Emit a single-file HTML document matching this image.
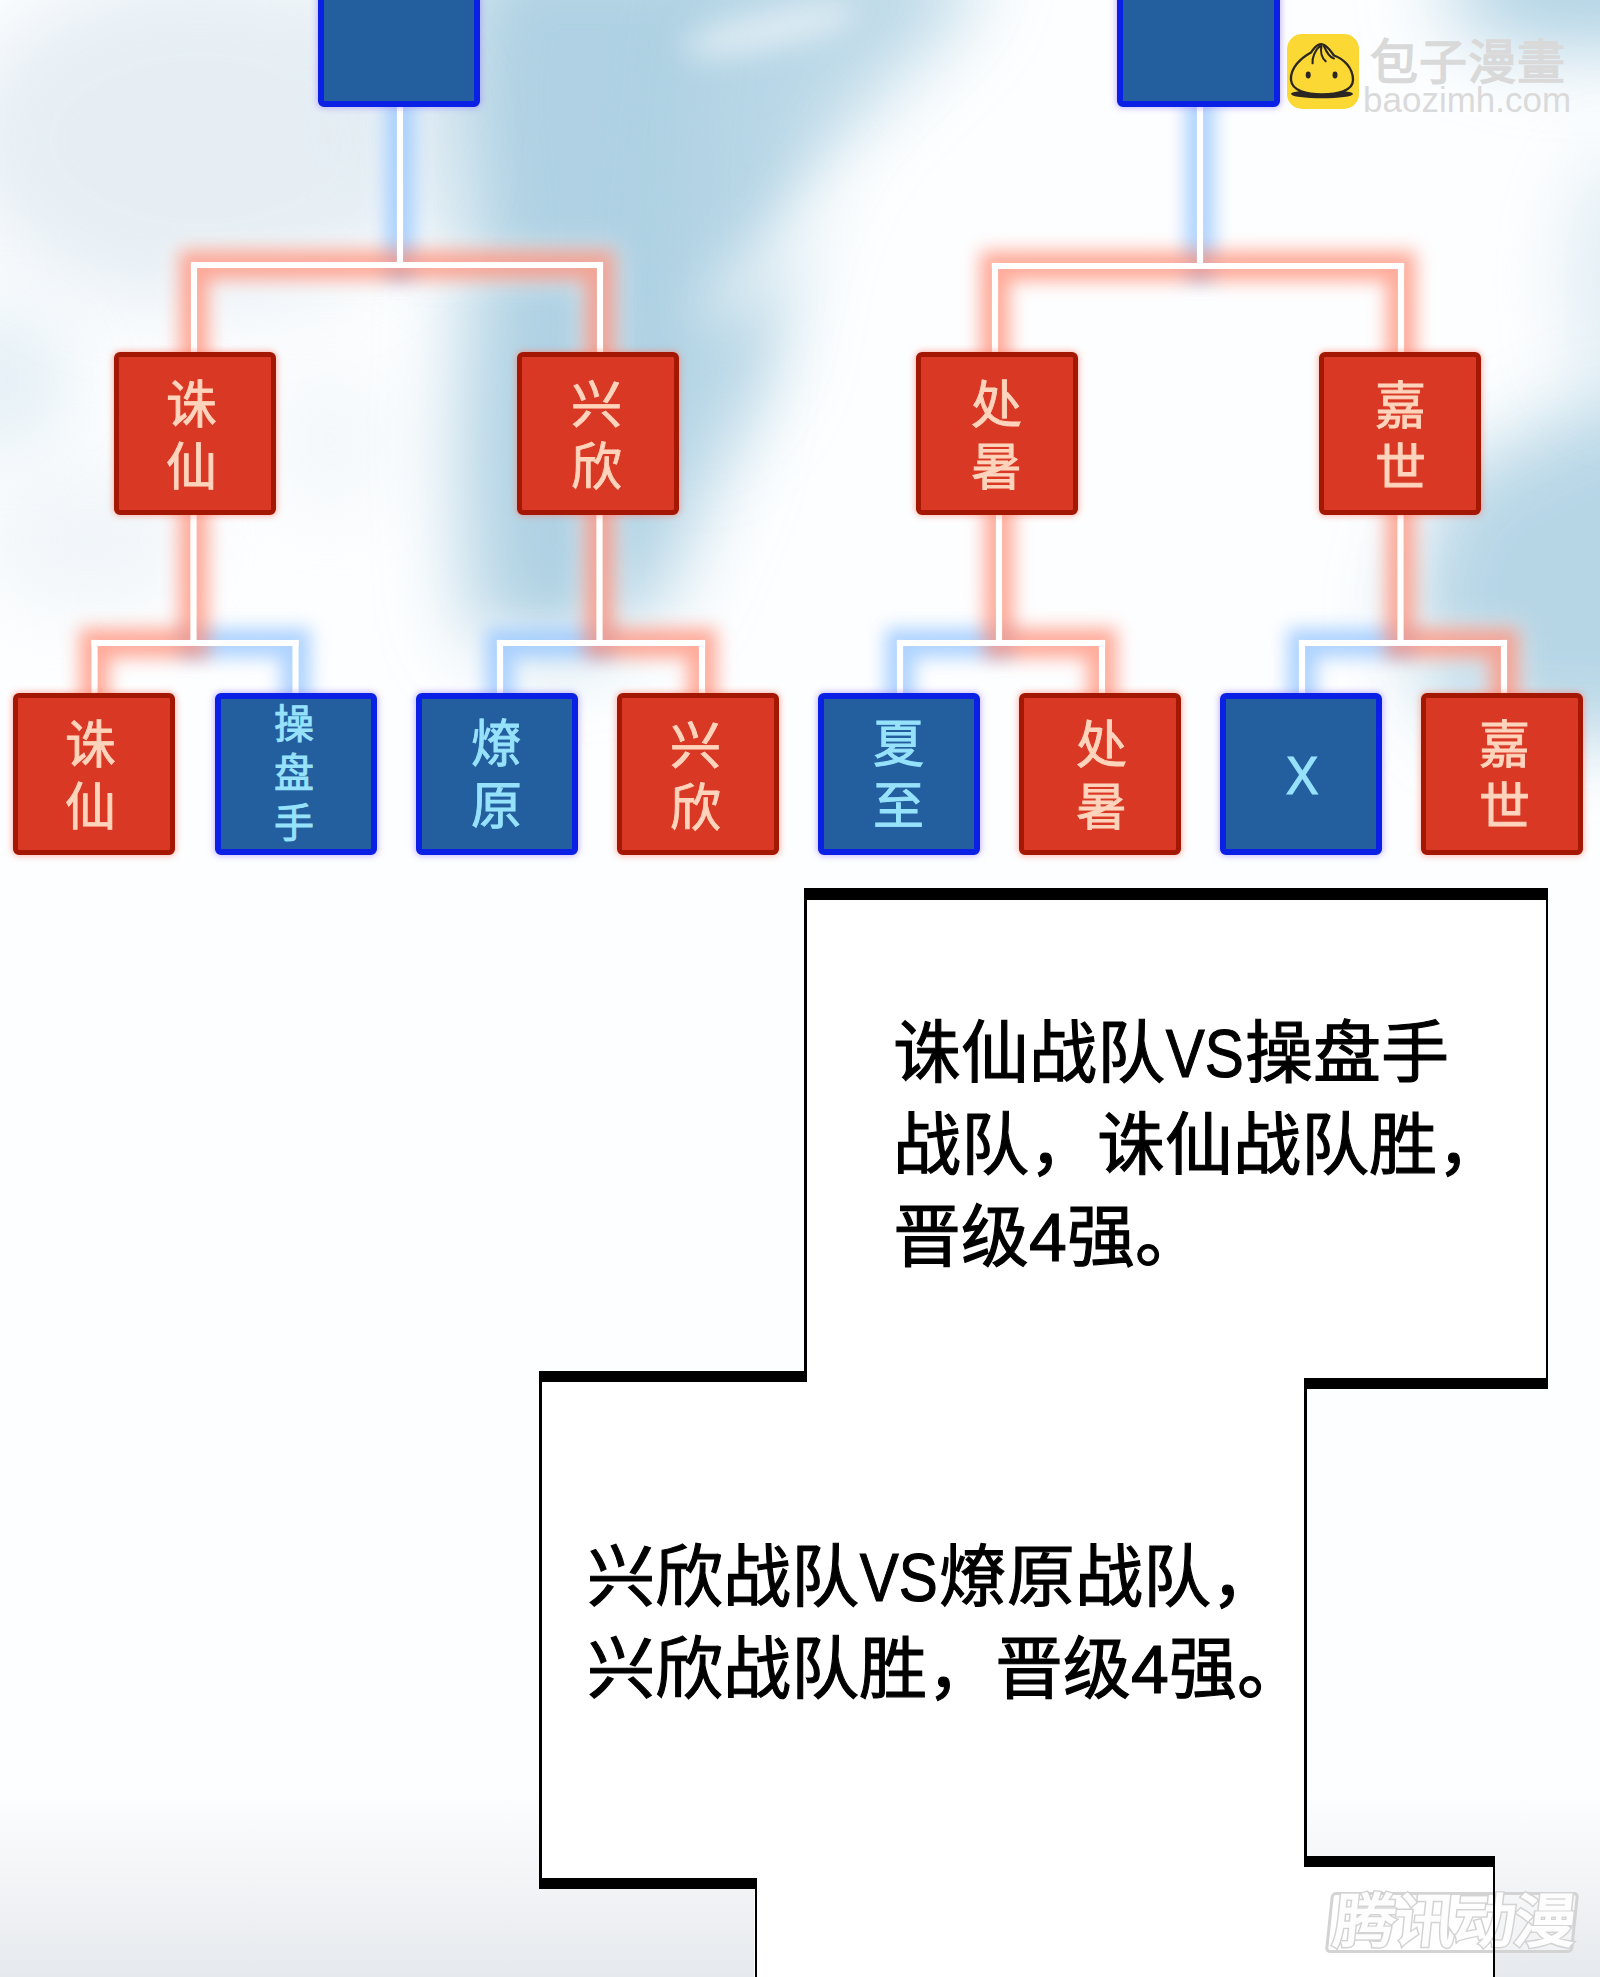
<!DOCTYPE html>
<html lang="zh-CN"><head><meta charset="utf-8"><style>
html,body{margin:0;padding:0;}
body{width:1600px;height:1977px;overflow:hidden;position:relative;background:#fdfeff;font-family:"Liberation Sans",sans-serif;}
.bg{position:absolute;left:0;top:0;}
.box{position:absolute;box-sizing:border-box;border-radius:6px;border:5.8px solid;display:flex;align-items:center;justify-content:center;}
.rb{background:#d93824;border-color:#a31703;color:#ffd4bd;box-shadow:0 0 6px 1px rgba(255,120,100,.55);}
.bb{border-width:6.5px;background:#235e9f;border-color:#0a20e4;color:#97e2fb;box-shadow:0 0 6px 1px rgba(150,120,255,.55);}
.lab{text-align:center;-webkit-text-stroke:0.9px currentColor;}
.labx{-webkit-text-stroke:1.2px currentColor;}
.panel{position:absolute;background:#fff;}
.bk{position:absolute;background:#000;}
.txt{position:absolute;font-size:68px;line-height:92px;color:#000;-webkit-text-stroke:1.1px #000;white-space:nowrap;}
.vs{display:inline-block;width:80px;white-space:nowrap;}.vs i{font-style:normal;display:inline-block;transform:scaleX(0.86);transform-origin:0 50%;padding-left:1px;}
</style></head>
<body>
<svg class="bg" width="1600" height="1977">
<defs>
<filter id="b40" filterUnits="userSpaceOnUse" x="-300" y="-300" width="2200" height="1400"><feGaussianBlur stdDeviation="40"/></filter>
<filter id="b25" filterUnits="userSpaceOnUse" x="-300" y="-300" width="2200" height="1400"><feGaussianBlur stdDeviation="25"/></filter>
<filter id="b15" filterUnits="userSpaceOnUse" x="-300" y="-300" width="2200" height="1400"><feGaussianBlur stdDeviation="15"/></filter>
<linearGradient id="bot" x1="0" y1="0" x2="0" y2="1"><stop offset="0" stop-color="#e7eaee" stop-opacity="0"/><stop offset="0.55" stop-color="#e7eaee" stop-opacity="0.55"/><stop offset="1" stop-color="#e6e9ed" stop-opacity="1"/></linearGradient>
</defs>
<rect width="1600" height="1977" fill="#fdfeff"/>
<g fill="#afd1e3">
<polygon filter="url(#b40)" points="470,-60 760,-60 740,120 730,300 720,450 660,600 570,660 470,630 460,450 470,250 450,100"/>
<polygon filter="url(#b40)" points="330,-60 480,-60 470,120 450,260 380,200" opacity="0.35"/>
<polygon filter="url(#b40)" points="700,-60 985,-60 955,25 890,80 830,150 790,250 770,380 700,470 660,300" opacity="0.85"/>
<polygon filter="url(#b40)" points="1440,480 1600,400 1700,400 1700,740 1460,730 1400,620" opacity="0.9"/>
<ellipse filter="url(#b40)" cx="1590" cy="-10" rx="150" ry="60"/>
<ellipse filter="url(#b40)" cx="1620" cy="280" rx="50" ry="130" opacity="0.4"/>
<ellipse filter="url(#b40)" cx="0" cy="380" rx="70" ry="70" opacity="0.35"/>
</g>
<g fill="#ffffff">
<ellipse filter="url(#b15)" cx="770" cy="30" rx="90" ry="18" opacity="0.55" transform="rotate(-12 770 30)"/>
<ellipse filter="url(#b25)" cx="800" cy="240" rx="130" ry="35" opacity="0.45" transform="rotate(-40 800 240)"/>
</g>
<g fill="#dde8f0">
<ellipse filter="url(#b40)" cx="200" cy="140" rx="240" ry="170" opacity="0.7"/>
<ellipse filter="url(#b40)" cx="90" cy="540" rx="110" ry="70" opacity="0.4"/>
<ellipse filter="url(#b40)" cx="330" cy="440" rx="60" ry="80" opacity="0.3"/>
</g>
<rect x="0" y="1790" width="1600" height="187" fill="url(#bot)"/>
</svg>
<svg width="1600" height="1977" style="position:absolute;left:0;top:0">
<defs><filter id="gb" filterUnits="userSpaceOnUse" x="-100" y="-100" width="1800" height="1100"><feGaussianBlur stdDeviation="9"/></filter></defs>
<defs><filter id="gw" filterUnits="userSpaceOnUse" x="-100" y="-100" width="1800" height="1100"><feGaussianBlur stdDeviation="14"/></filter></defs>
<g filter="url(#gw)" stroke="#ffffff" stroke-width="40" stroke-linecap="square" opacity="0.45">
<line x1="400" y1="106" x2="400" y2="265"/>
<line x1="194" y1="265" x2="400" y2="265"/>
<line x1="400" y1="265" x2="600" y2="265"/>
<line x1="194" y1="265" x2="194" y2="352"/>
<line x1="600" y1="265" x2="600" y2="352"/>
<line x1="1200" y1="106" x2="1200" y2="266"/>
<line x1="995" y1="266" x2="1200" y2="266"/>
<line x1="1200" y1="266" x2="1401" y2="266"/>
<line x1="995" y1="266" x2="995" y2="352"/>
<line x1="1401" y1="266" x2="1401" y2="352"/>
<line x1="193.5" y1="515" x2="193.5" y2="643"/>
<line x1="94.5" y1="643" x2="193.5" y2="643"/>
<line x1="94.5" y1="643" x2="94.5" y2="693"/>
<line x1="193.5" y1="643" x2="295.5" y2="643"/>
<line x1="295.5" y1="643" x2="295.5" y2="693"/>
<line x1="599.5" y1="515" x2="599.5" y2="643"/>
<line x1="500" y1="643" x2="599.5" y2="643"/>
<line x1="500" y1="643" x2="500" y2="693"/>
<line x1="599.5" y1="643" x2="702" y2="643"/>
<line x1="702" y1="643" x2="702" y2="693"/>
<line x1="999" y1="515" x2="999" y2="643"/>
<line x1="900" y1="643" x2="999" y2="643"/>
<line x1="900" y1="643" x2="900" y2="693"/>
<line x1="999" y1="643" x2="1102" y2="643"/>
<line x1="1102" y1="643" x2="1102" y2="693"/>
<line x1="1400.5" y1="515" x2="1400.5" y2="643"/>
<line x1="1302" y1="643" x2="1400.5" y2="643"/>
<line x1="1302" y1="643" x2="1302" y2="693"/>
<line x1="1400.5" y1="643" x2="1504" y2="643"/>
<line x1="1504" y1="643" x2="1504" y2="693"/>
</g>
<g filter="url(#gb)" stroke="#8fc2ff" stroke-width="30" stroke-linecap="square" opacity="0.72">
<line x1="400" y1="106" x2="400" y2="265"/>
<line x1="1200" y1="106" x2="1200" y2="266"/>
<line x1="193.5" y1="643" x2="295.5" y2="643"/>
<line x1="295.5" y1="643" x2="295.5" y2="693"/>
<line x1="500" y1="643" x2="599.5" y2="643"/>
<line x1="500" y1="643" x2="500" y2="693"/>
<line x1="900" y1="643" x2="999" y2="643"/>
<line x1="900" y1="643" x2="900" y2="693"/>
<line x1="1302" y1="643" x2="1400.5" y2="643"/>
<line x1="1302" y1="643" x2="1302" y2="693"/>
</g>
<g filter="url(#gb)" stroke="#ff8a72" stroke-width="30" stroke-linecap="square" opacity="0.72">
<line x1="194" y1="265" x2="400" y2="265"/>
<line x1="400" y1="265" x2="600" y2="265"/>
<line x1="194" y1="265" x2="194" y2="352"/>
<line x1="600" y1="265" x2="600" y2="352"/>
<line x1="995" y1="266" x2="1200" y2="266"/>
<line x1="1200" y1="266" x2="1401" y2="266"/>
<line x1="995" y1="266" x2="995" y2="352"/>
<line x1="1401" y1="266" x2="1401" y2="352"/>
<line x1="193.5" y1="515" x2="193.5" y2="643"/>
<line x1="94.5" y1="643" x2="193.5" y2="643"/>
<line x1="94.5" y1="643" x2="94.5" y2="693"/>
<line x1="599.5" y1="515" x2="599.5" y2="643"/>
<line x1="599.5" y1="643" x2="702" y2="643"/>
<line x1="702" y1="643" x2="702" y2="693"/>
<line x1="999" y1="515" x2="999" y2="643"/>
<line x1="999" y1="643" x2="1102" y2="643"/>
<line x1="1102" y1="643" x2="1102" y2="693"/>
<line x1="1400.5" y1="515" x2="1400.5" y2="643"/>
<line x1="1400.5" y1="643" x2="1504" y2="643"/>
<line x1="1504" y1="643" x2="1504" y2="693"/>
</g>
<g stroke="#ffffff" stroke-width="6.2" stroke-linecap="square">
<line x1="400" y1="106" x2="400" y2="265"/>
<line x1="194" y1="265" x2="400" y2="265"/>
<line x1="400" y1="265" x2="600" y2="265"/>
<line x1="194" y1="265" x2="194" y2="352"/>
<line x1="600" y1="265" x2="600" y2="352"/>
<line x1="1200" y1="106" x2="1200" y2="266"/>
<line x1="995" y1="266" x2="1200" y2="266"/>
<line x1="1200" y1="266" x2="1401" y2="266"/>
<line x1="995" y1="266" x2="995" y2="352"/>
<line x1="1401" y1="266" x2="1401" y2="352"/>
<line x1="193.5" y1="515" x2="193.5" y2="643"/>
<line x1="94.5" y1="643" x2="193.5" y2="643"/>
<line x1="94.5" y1="643" x2="94.5" y2="693"/>
<line x1="193.5" y1="643" x2="295.5" y2="643"/>
<line x1="295.5" y1="643" x2="295.5" y2="693"/>
<line x1="599.5" y1="515" x2="599.5" y2="643"/>
<line x1="500" y1="643" x2="599.5" y2="643"/>
<line x1="500" y1="643" x2="500" y2="693"/>
<line x1="599.5" y1="643" x2="702" y2="643"/>
<line x1="702" y1="643" x2="702" y2="693"/>
<line x1="999" y1="515" x2="999" y2="643"/>
<line x1="900" y1="643" x2="999" y2="643"/>
<line x1="900" y1="643" x2="900" y2="693"/>
<line x1="999" y1="643" x2="1102" y2="643"/>
<line x1="1102" y1="643" x2="1102" y2="693"/>
<line x1="1400.5" y1="515" x2="1400.5" y2="643"/>
<line x1="1302" y1="643" x2="1400.5" y2="643"/>
<line x1="1302" y1="643" x2="1302" y2="693"/>
<line x1="1400.5" y1="643" x2="1504" y2="643"/>
<line x1="1504" y1="643" x2="1504" y2="693"/>
</g></svg>
<div class="box bb" style="left:317.5px;top:-12px;width:162.5px;height:118.5px"></div><div class="box bb" style="left:1117px;top:-12px;width:163px;height:118.5px"></div><div class="box rb" style="left:113.5px;top:352px;width:162.5px;height:162.5px"><div class="lab" style="font-size:51px;line-height:62px;transform:translate(-3.6px,3.75px)">诛<br>仙</div></div><div class="box rb" style="left:516.5px;top:352px;width:162.5px;height:162.5px"><div class="lab" style="font-size:51px;line-height:62px;transform:translate(-0.8px,4.0px)">兴<br>欣</div></div><div class="box rb" style="left:915.5px;top:352px;width:162.5px;height:162.5px"><div class="lab" style="font-size:51px;line-height:62px;transform:translate(0.0px,3.5px)">处<br>暑</div></div><div class="box rb" style="left:1318.5px;top:352px;width:162.5px;height:162.5px"><div class="lab" style="font-size:51px;line-height:62px;transform:translate(0.5px,5.0px)">嘉<br>世</div></div><div class="box rb" style="left:13.2px;top:693px;width:162px;height:162px"><div class="lab" style="font-size:51px;line-height:62px;transform:translate(-3.5px,3.4px)">诛<br>仙</div></div><div class="box bb" style="left:214.5px;top:693px;width:162px;height:162px"><div class="lab" style="font-size:40px;line-height:49.5px;transform:translate(-1.6px,0.0px)">操<br>盘<br>手</div></div><div class="box bb" style="left:415.5px;top:693px;width:162px;height:162px"><div class="lab" style="font-size:51px;line-height:62px;transform:translate(0.25px,2.25px)">燎<br>原</div></div><div class="box rb" style="left:617px;top:693px;width:162px;height:162px"><div class="lab" style="font-size:51px;line-height:62px;transform:translate(-2.25px,3.6px)">兴<br>欣</div></div><div class="box bb" style="left:817.5px;top:693px;width:162px;height:162px"><div class="lab" style="font-size:51px;line-height:62px;transform:translate(0.25px,2.25px)">夏<br>至</div></div><div class="box rb" style="left:1018.75px;top:693px;width:162px;height:162px"><div class="lab" style="font-size:51px;line-height:62px;transform:translate(1.75px,2.9px)">处<br>暑</div></div><div class="box bb" style="left:1219.5px;top:693px;width:162px;height:162px"><div class="lab labx" style="font-size:53px;line-height:62px;transform:translate(1.5px,1.75px) scaleX(0.92)">X</div></div><div class="box rb" style="left:1420.5px;top:693px;width:162px;height:162px"><div class="lab" style="font-size:51px;line-height:62px;transform:translate(2.75px,3.1px)">嘉<br>世</div></div>

<div style="position:absolute;left:1287px;top:34px;width:72px;height:75px;background:#fcd835;border-radius:15px;"></div>
<svg style="position:absolute;left:1287px;top:34px" width="72" height="75" viewBox="0 0 72 75">
<ellipse cx="35" cy="60" rx="31" ry="4.3" fill="#2b2622"/>
<path d="M31 11 C27 13 26 16 24 18.5 C14 24 3 34 4 46 C5 57 20 60.5 35 60.5 C50 60.5 66 57 66 46 C66 34 57 25 47 21.5 C44 18 41 12 36 10.5 C34 10 32 10.5 31 11 Z" fill="#fcd835" stroke="#2b2622" stroke-width="2.3"/>
<path d="M25.6 29.3 C25 24 28 16 33 12 M38.7 27.3 C35 24 33 18 34.5 12 M46.9 24.5 C42 23 39 17 37 12" fill="none" stroke="#2b2622" stroke-width="2.1" stroke-linecap="round"/>
<ellipse cx="21.2" cy="41" rx="2.5" ry="3.4" fill="#2b2622"/>
<ellipse cx="48" cy="41" rx="2.5" ry="3.4" fill="#2b2622"/>
</svg>
<div style="position:absolute;left:1370px;top:31px;font-size:48px;line-height:64px;color:#d9d9d9;letter-spacing:1px;-webkit-text-stroke:1.5px #d9d9d9;white-space:nowrap">包子漫畫</div>
<div style="position:absolute;left:1363px;top:80px;font-size:35px;line-height:40px;color:#dadada;white-space:nowrap">baozimh.com</div>


<div class="panel" style="left:804px;top:888px;width:744px;height:501px"></div>
<div class="panel" style="left:539px;top:1371px;width:767px;height:518px"></div>
<div class="panel" style="left:754px;top:1856px;width:741px;height:121px"></div>


<div style="position:absolute;left:1322px;top:1880px;width:262px;height:80px;overflow:visible">
<div style="position:absolute;left:6px;top:12px;width:248px;height:61px;border:3px solid #d3d3d3;border-radius:5px;transform:skewX(-6deg);box-sizing:border-box;background:rgba(255,255,255,0.35)"></div>
<div style="position:absolute;left:12px;top:2px;font-size:62px;line-height:80px;font-weight:bold;color:#fdfdfd;-webkit-text-stroke:3px #d3d3d3;paint-order:stroke fill;letter-spacing:-2px;transform:skewX(-6deg) scaleY(0.95);white-space:nowrap">腾讯动漫</div>
</div>


<div class="bk" style="left:804px;top:888px;width:744px;height:12px"></div>
<div class="bk" style="left:804px;top:888px;width:2.5px;height:494px"></div>
<div class="bk" style="left:1545.5px;top:888px;width:2.5px;height:501px"></div>
<div class="bk" style="left:539px;top:1371px;width:267px;height:11px"></div>
<div class="bk" style="left:1304px;top:1378px;width:244px;height:11px"></div>
<div class="bk" style="left:539px;top:1371px;width:2.5px;height:518px"></div>
<div class="bk" style="left:1304px;top:1378px;width:2.5px;height:489px"></div>
<div class="bk" style="left:539px;top:1878px;width:218px;height:11px"></div>
<div class="bk" style="left:754.5px;top:1878px;width:2.5px;height:99px"></div>
<div class="bk" style="left:1304px;top:1856px;width:191px;height:11px"></div>
<div class="bk" style="left:1492.5px;top:1856px;width:2.5px;height:121px"></div>


<div class="txt" style="left:893px;top:1007px">诛仙战队<span class="vs"><i>VS</i></span>操盘手<br>战队，诛仙战队胜，<br>晋级4强。</div>
<div class="txt" style="left:587px;top:1531px">兴欣战队<span class="vs"><i>VS</i></span>燎原战队，<br>兴欣战队胜，晋级4强。</div>

</body></html>
